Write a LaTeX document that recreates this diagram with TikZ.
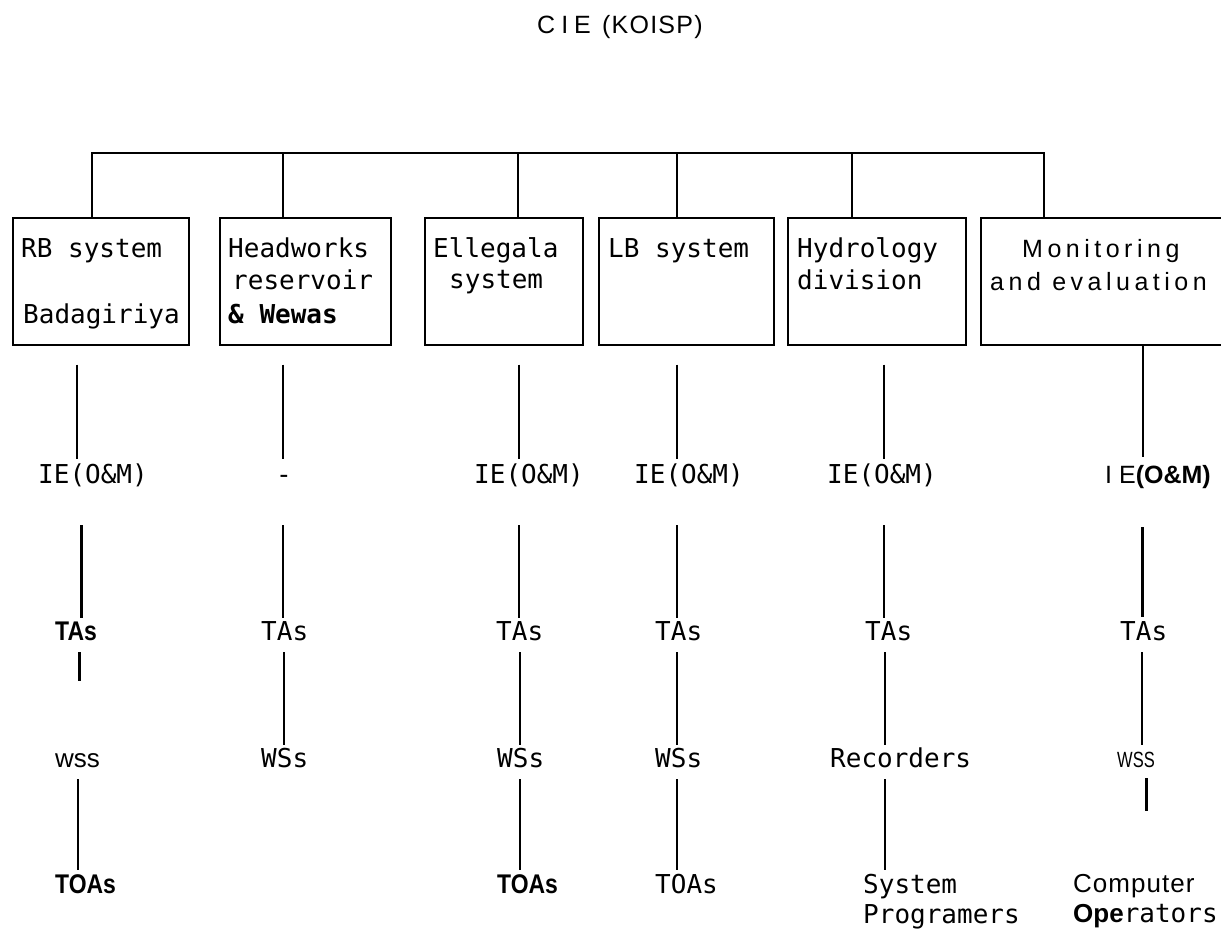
\documentclass[tikz,border=0pt]{standalone}
\usepackage{fontspec}
\setmainfont{DejaVu Sans Mono}
\newfontfamily\hsans{Liberation Sans}
\newfontfamily\nsans[FakeStretch=0.85]{Liberation Sans}
\newfontfamily\vsans[FakeStretch=0.75]{Liberation Sans}
\newfontfamily\ttlfont[LetterSpace=5]{Liberation Sans}
\newfontfamily\mefont[LetterSpace=18]{Liberation Sans}
\newfontfamily\cmpfont[LetterSpace=4]{Liberation Sans}
\tikzset{
  box/.style={draw, line width=1.6pt, rectangle, inner sep=0pt, anchor=north west},
  lbl/.style={inner sep=0pt, anchor=base west, text height=19pt, text depth=5pt, font=\fontsize{26}{30}\selectfont},
  two/.style={inner sep=0pt, anchor=north west, align=left, font=\fontsize{26}{30}\selectfont},
  link/.style={line width=1.4pt},
  heavy/.style={line width=3pt},
  gA/.style={shorten <=19pt, shorten >=5pt},
  gB/.style={shorten <=37pt, shorten >=3pt},
  gC/.style={shorten <=7pt, shorten >=3pt},
  gD/.style={shorten <=7pt, shorten >=4pt},
}
\begin{document}
\begin{tikzpicture}[x=1pt,y=-1pt]
\useasboundingbox (0,0) rectangle (1221,935);
\fill[white] (0,0) rectangle (1221,935);

% title
\node[lbl, font=\ttlfont\fontsize{25}{30}\selectfont] (title) at (537,33) {C\kern6pt I\kern6pt E\kern3pt{} (KOISP)};

% boxes
\node[box, minimum width=176pt, minimum height=127pt] (box1) at (12,217) {};
\node[box, minimum width=171pt, minimum height=127pt] (box2) at (219,217) {};
\node[box, minimum width=158pt, minimum height=127pt] (box3) at (424,217) {};
\node[box, minimum width=175pt, minimum height=127pt] (box4) at (598,217) {};
\node[box, minimum width=178pt, minimum height=127pt] (box5) at (787,217) {};
\node[box, minimum width=245pt, minimum height=127pt] (box6) at (980,217) {};

% box texts
\node[lbl] (t1a) at (21,257) {RB system};
\node[lbl] (t1b) at (23,323) {Badagiriya};
\node[lbl] (t2a) at (228,257) {Headworks};
\node[lbl] (t2b) at (232,289) {reservoir};
\node[lbl, font=\fontsize{26}{30}\selectfont\bfseries] (t2c) at (228,323) {\& Wewas};
\node[lbl] (t3a) at (433,257) {Ellegala};
\node[lbl] (t3b) at (449,288) {system};
\node[lbl] (t4a) at (608,257) {LB system};
\node[lbl] (t5a) at (797,257) {Hydrology};
\node[lbl] (t5b) at (797,289) {division};
\node[lbl, font=\mefont\fontsize{25}{30}\selectfont] (t6a) at (1022,257) {Monitoring};
\node[lbl, font=\mefont\fontsize{25}{30}\selectfont] (t6b) at (990,290) {and evaluation};

% bus
\coordinate (busL) at (92,153);
\coordinate (busR) at (1044,153);
\draw[link] (box1.north -| busL) -- (busL) -- (busR) -- (box6.north -| busR);
\draw[link] (busL -| 283,0) -- (box2.north -| 283,0);
\draw[link] (busL -| 518,0) -- (box3.north -| 518,0);
\draw[link] (busL -| 677,0) -- (box4.north -| 677,0);
\draw[link] (busL -| 852,0) -- (box5.north -| 852,0);

% row IE
\node[lbl] (ie1) at (38,483) {IE(O\&M)};
\node[lbl] (ie2) at (276,483) {-};
\node[lbl] (ie3) at (474,483) {IE(O\&M)};
\node[lbl] (ie4) at (634,483) {IE(O\&M)};
\node[lbl] (ie5) at (827,483) {IE(O\&M)};
\node[lbl, font=\hsans\fontsize{25}{30}\selectfont] (ie6) at (1105,483) {I E{\bfseries(O\&M)}};

% row TAs
\node[lbl, font=\nsans\bfseries\fontsize{27}{30}\selectfont] (tas1) at (55,640) {TAs};
\node[lbl] (tas2) at (261,640) {TAs};
\node[lbl] (tas3) at (496,640) {TAs};
\node[lbl] (tas4) at (655,640) {TAs};
\node[lbl] (tas5) at (865,640) {TAs};
\node[lbl] (tas6) at (1120,640) {TAs};

% row WSs
\node[lbl, font=\hsans\fontsize{26}{30}\selectfont] (wss1) at (55,767) {wss};
\node[lbl] (wss2) at (261,767) {WSs};
\node[lbl] (wss3) at (497,767) {WSs};
\node[lbl] (wss4) at (655,767) {WSs};
\node[lbl] (rec5) at (830,767) {Recorders};
\node[lbl, font=\vsans\fontsize{22}{26}\selectfont] (wss6) at (1117,767) {WSS};

% row TOAs
\node[lbl, font=\nsans\bfseries\fontsize{27}{30}\selectfont] (toa1) at (55,893) {TOAs};
\node[lbl, font=\nsans\bfseries\fontsize{27}{30}\selectfont] (toa3) at (497,893) {TOAs};
\node[lbl] (toa4) at (655,893) {TOAs};
\node[two] (sys5) at (863,874) {System\\Programers};
\node[two] (cmp6) at (1073,874) {{\cmpfont Computer}\\{\hsans\bfseries Ope}rators};

% column 1
\draw[link, gA] (box1.south -| 77,0) -- (ie1.north -| 77,0);
\draw[heavy, gB] (ie1.south -| 81,0) -- (tas1.north -| 81,0);
\draw[heavy, shorten <=7pt, shorten >=67pt] (tas1.south -| 79,0) -- (wss1.north -| 79,0);
\draw[link, gD] (wss1.south -| 78,0) -- (toa1.north -| 78,0);
% column 2
\draw[link, gA] (box2.south -| 283,0) -- (ie2.north -| 283,0);
\draw[link, gB] (ie2.south -| 283,0) -- (tas2.north -| 283,0);
\draw[link, gC] (tas2.south -| 284,0) -- (wss2.north -| 284,0);
% column 3
\draw[link, gA] (box3.south -| 519,0) -- (ie3.north -| 519,0);
\draw[link, gB] (ie3.south -| 519,0) -- (tas3.north -| 519,0);
\draw[link, gC] (tas3.south -| 520,0) -- (wss3.north -| 520,0);
\draw[link, gD] (wss3.south -| 520,0) -- (toa3.north -| 520,0);
% column 4
\draw[link, gA] (box4.south -| 677,0) -- (ie4.north -| 677,0);
\draw[link, gB] (ie4.south -| 677,0) -- (tas4.north -| 677,0);
\draw[link, gC] (tas4.south -| 677,0) -- (wss4.north -| 677,0);
\draw[link, gD] (wss4.south -| 677,0) -- (toa4.north -| 677,0);
% column 5
\draw[link, gA] (box5.south -| 884,0) -- (ie5.north -| 884,0);
\draw[link, gB] (ie5.south -| 884,0) -- (tas5.north -| 884,0);
\draw[link, gC] (tas5.south -| 885,0) -- (rec5.north -| 885,0);
\draw[link, gD] (rec5.south -| 885,0) -- (sys5.north -| 885,0);
% column 6
\draw[link, shorten >=7pt] (box6.south -| 1143,0) -- (ie6.north -| 1143,0);
\draw[heavy, shorten <=39pt, shorten >=4pt] (ie6.south -| 1142,0) -- (tas6.north -| 1142,0);
\draw[link, gC] (tas6.south -| 1142,0) -- (wss6.north -| 1142,0);
\coordinate (m6end) at (1146,811);
\draw[heavy, shorten <=6pt] (wss6.south -| m6end) -- (m6end);
\end{tikzpicture}
\end{document}
